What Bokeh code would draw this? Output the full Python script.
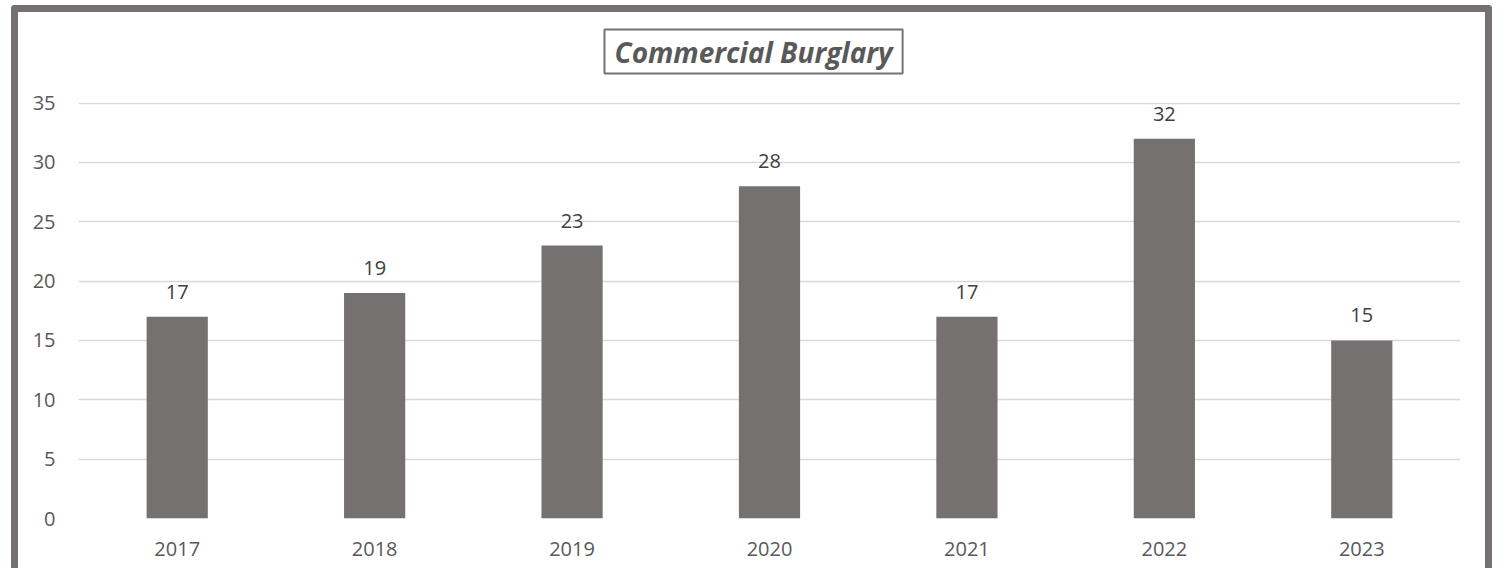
from bokeh.plotting import figure
from bokeh.models import ColumnDataSource, LabelSet, Range1d, FixedTicker, Title
from bokeh.core.properties import value
from bokeh.embed import file_html
from bokeh.resources import INLINE

years = ["2017", "2018", "2019", "2020", "2021", "2022", "2023"]
counts = [17, 19, 23, 28, 17, 32, 15]
y_ticks = [0, 5, 10, 15, 20, 25, 30, 35]
title_text = "Commercial Burglary"

FONT = "Open Sans"
BAR = "#767171"

src = ColumnDataSource(dict(year=years, count=counts, label=[str(c) for c in counts]))

p = figure(x_range=years, y_range=Range1d(0, 35.05), width=1481, height=563,
           output_backend="svg", toolbar_location=None, title=None,
           min_border_left=60, min_border_right=39, min_border_bottom=57, min_border_top=90)
p.styles = {"border-top": "7px solid #767171", "border-left": "7px solid #767171",
            "border-right": "7px solid #767171", "border-radius": "4px 4px 0 0",
            "margin-left": "11px", "margin-top": "5px"}

p.vbar(x="year", top="count", width=0.31, source=src, fill_color=BAR, line_color=None)

labels = LabelSet(x="year", y="count", text="label", source=src, y_offset=18,
                  text_align="center", text_baseline="bottom", text_font=value(FONT),
                  text_font_size="20px", text_color="#404040")
p.add_layout(labels)

# spacer between chart title and plot area (nearest the frame)
spacer = Title(text=" ", text_font_size="1px", text_color="#ffffff", standoff=12)
p.add_layout(spacer, "above")

main_title = Title(text=title_text, align="left", offset=526, text_font=FONT,
                   text_font_style="bold italic", text_font_size="28px",
                   text_color="#595959", border_line_color="#767171",
                   border_line_width=2, padding=dict(left=10, right=10, top=3, bottom=3),
                   standoff=28)
p.add_layout(main_title, "above")

p.outline_line_color = None
p.xgrid.grid_line_color = None
p.ygrid.grid_line_color = "#d9d9d9"
p.ygrid.grid_line_width = 1.5
p.yaxis.ticker = FixedTicker(ticks=y_ticks)

for ax in (p.xaxis, p.yaxis):
    ax.axis_line_color = None
    ax.major_tick_line_color = None
    ax.minor_tick_line_color = None
    ax.major_tick_out = 0
    ax.major_tick_in = 0
    ax.major_label_text_font = FONT
    ax.major_label_text_font_size = "20px"
    ax.major_label_text_color = "#595959"
p.yaxis.major_label_standoff = 23
p.xaxis.major_label_standoff = 23

open("out.html", "w").write(file_html(p, INLINE))
